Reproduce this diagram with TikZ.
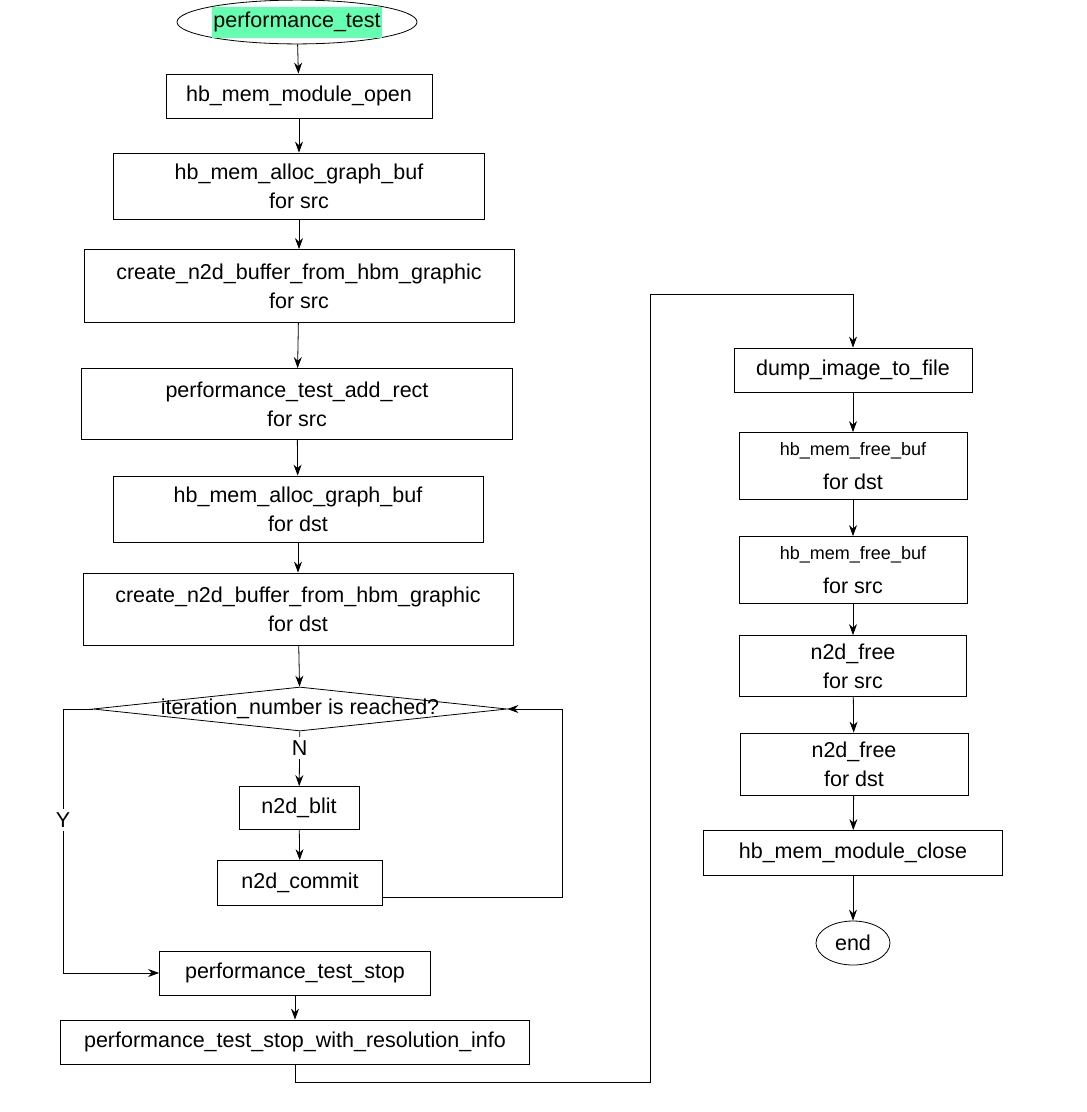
\documentclass[tikz,border=0pt]{standalone}
\usepackage{fontspec}
\setmainfont{Liberation Sans}
\usetikzlibrary{shapes.geometric,arrows.meta,positioning}
\definecolor{hilite}{RGB}{102,255,178}
\tikzset{
  box/.style={draw,thick,rectangle,align=center,inner sep=0pt,font=\fontsize{21.5}{29}\selectfont},
  term/.style={draw,thick,ellipse,inner sep=0pt,font=\fontsize{21.5}{29}\selectfont},
  line/.style={thick,-{Stealth[length=11pt,width=8pt]}}
}
\begin{document}
\begin{tikzpicture}[x=1pt,y=-1pt]
  \useasboundingbox (0,0) rectangle (1087,1112);

  % left column
  \node[term,minimum width=240,minimum height=38] (start) at (297,22) {\setlength{\fboxsep}{1pt}\colorbox{hilite}{\strut performance\_test}};
  \node[box,minimum width=266,minimum height=44] (open) at (299,96) {hb\_mem\_module\_open};
  \node[box,minimum width=371,minimum height=66] (allocsrc) at (299,186) {hb\_mem\_alloc\_graph\_buf\\for src};
  \node[box,minimum width=430,minimum height=73] (createsrc) at (299,286) {create\_n2d\_buffer\_from\_hbm\_graphic\\for src};
  \node[box,minimum width=431,minimum height=71] (addrect) at (297,404) {performance\_test\_add\_rect\\for src};
  \node[box,minimum width=370,minimum height=66] (allocdst) at (298,509) {hb\_mem\_alloc\_graph\_buf\\for dst};
  \node[box,minimum width=430,minimum height=72] (createdst) at (298,609) {create\_n2d\_buffer\_from\_hbm\_graphic\\for dst};
  \node[draw,thick,diamond,inner sep=0pt,minimum width=414,minimum height=44] (iter) at (300,709) {};
  \node[font=\fontsize{21.5}{29}\selectfont] (iterText) at (iter) {iteration\_number is reached?};
  \node[box,minimum width=120,minimum height=43] (blit) at (299,808) {n2d\_blit};
  \node[box,minimum width=165,minimum height=45] (commit) at (300,883) {n2d\_commit};
  \node[box,minimum width=271,minimum height=44] (stop) at (295,973) {performance\_test\_stop};
  \node[box,minimum width=469,minimum height=44] (stopres) at (295,1042) {performance\_test\_stop\_with\_resolution\_info};

  % right column
  \node[box,minimum width=238,minimum height=44] (dump) at (853,370) {dump\_image\_to\_file};
  \node[box,minimum width=228,minimum height=67,font=\fontsize{18}{34}\selectfont] (freedst) at (853,466) {hb\_mem\_free\_buf\\{\fontsize{21.5}{20}\selectfont for dst}};
  \node[box,minimum width=228,minimum height=67,font=\fontsize{18}{34}\selectfont] (freesrc) at (853,570) {hb\_mem\_free\_buf\\{\fontsize{21.5}{20}\selectfont for src}};
  \node[box,minimum width=227,minimum height=61] (n2dsrc) at (853,666) {n2d\_free\\for src};
  \node[box,minimum width=228,minimum height=62] (n2ddst) at (854,764) {n2d\_free\\for dst};
  \node[box,minimum width=299,minimum height=45] (close) at (853,853) {hb\_mem\_module\_close};
  \node[term,minimum width=74,minimum height=44] (end) at (853,943) {end};

  \coordinate (loopR) at (562,897);
  \coordinate (yL) at (63,709);
  \coordinate (low) at (295,1082);
  \coordinate (lowR) at (650,1082);
  \coordinate (topR) at (650,294);

  \draw[line] (start) -- (open);
  \draw[line] (open) -- (allocsrc);
  \draw[line] (allocsrc) -- (createsrc);
  \draw[line] (createsrc) -- (addrect);
  \draw[line] (addrect) -- (allocdst);
  \draw[line] (allocdst) -- (createdst);
  \draw[line] (createdst) -- (iter);
  \draw[line] (iter) -- node[fill=white,font=\fontsize{21.5}{20}\selectfont,pos=0.3] {N} (blit);
  \draw[line] (commit.east |- loopR) -- (loopR) |- (iter.east);
  \draw[line] (blit) -- (commit);
  \draw[line] (iter.west) -- (yL) |- node[pos=0.21,fill=white,font=\fontsize{21.5}{20}\selectfont] {Y} (stop.west);
  \draw[line] (stop) -- (stopres);
  \draw[line] (stopres) -- (low) -- (lowR) -- (topR) -| (dump);

  \draw[line] (dump) -- (freedst);
  \draw[line] (freedst) -- (freesrc);
  \draw[line] (freesrc) -- (n2dsrc);
  \draw[line] (n2dsrc) -- (n2ddst);
  \draw[line] (n2ddst) -- (close);
  \draw[line] (close) -- (end);
\end{tikzpicture}
\end{document}
